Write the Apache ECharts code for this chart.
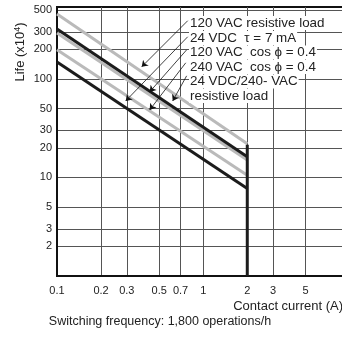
<!DOCTYPE html>
<html>
<head>
<meta charset="utf-8">
<script src="https://cdn.jsdelivr.net/npm/echarts@6/dist/echarts.min.js"></script>
<style>
  html, body { margin: 0; padding: 0; background: #fff; }
  #chart { width: 342px; height: 343px; }
</style>
</head>
<body>
<div id="chart"></div>
<script>
// Axis ticks (log scales)
const xTicks = [0.1, 0.2, 0.3, 0.5, 0.7, 1, 2, 3, 5, 10];
const yTicks = [2, 3, 5, 10, 20, 30, 50, 100, 200, 300, 500];

// Endurance curves: [contact current (A), life (x10^4 operations)]
const ac120Resistive = [[0.1, 455], [2, 22]];
const dc24Inductive = [[0.1, 148], [2, 7.7]];
const ac120Cos04 = [[0.1, 320], [2, 16.2]];
const ac240Cos04 = [[0.1, 197], [2, 10.5]];
const dc24Ac240Resistive = [[0.1, 292], [2, 15]];
// Maximum switching current limit
const currentLimit = [[2, 1], [2, 21.5]];

// Label texts
const labelLines = [
  '120 VAC resistive load',
  '24 VDC  \u03c4 = 7 mA',
  '120 VAC  cos \u03d5 = 0.4',
  '240 VAC  cos \u03d5 = 0.4',
  '24 VDC/240- VAC',
  'resistive load'
];
// Leader arrows: [from (under label), to (curve)]
const leaders = [
  [[0.783, 389], [0.3794, 132.5]],
  [[0.783, 267.5], [0.295, 59.7]],
  [[0.770, 197], [0.4303, 73.8]],
  [[0.759, 145.5], [0.4303, 48.4]],
  [[0.770, 107.3], [0.618, 59.7]]
];

const FONT = 'Liberation Sans, Arial, sans-serif';
const LABEL_FONT = '13.4px ' + FONT;
const GRAY = '#bababa';
const BLACK = '#1c1c1c';

// measure label widths for their white backing boxes
const measureCtx = document.createElement('canvas').getContext('2d');
measureCtx.font = LABEL_FONT;
const textWidth = t => measureCtx.measureText(t).width;

const chart = echarts.init(document.getElementById('chart'), null, { renderer: 'canvas' });

function curve(data, color) {
  return {
    type: 'line', data: data, symbol: 'none', silent: true,
    lineStyle: { color: color, width: 3 }, z: color === BLACK ? 4 : 3
  };
}

const textLineY = [23, 38, 52.5, 67, 81.5, 96];

chart.setOption({
  animation: false,
  backgroundColor: '#fff',
  grid: {
    left: 57, top: 7, width: 292.5, height: 269,
    outerBoundsMode: 'none', containLabel: false,
    show: true, borderColor: '#111', borderWidth: 2
  },
  xAxis: {
    type: 'log', logBase: 10, min: 0.1, max: 10,
    axisLine: { show: true, lineStyle: { color: '#111', width: 2 } },
    axisTick: { show: false, customValues: xTicks },
    axisLabel: {
      customValues: xTicks, margin: 9, color: '#222',
      fontFamily: FONT, fontSize: 11,
      formatter: v => String(+v.toPrecision(3))
    },
    splitLine: { show: true, lineStyle: { color: '#555', width: 1 } },
    minorSplitLine: { show: false }
  },
  yAxis: {
    type: 'log', logBase: 10, min: 1, max: 536,
    axisLine: { show: true, lineStyle: { color: '#111', width: 2 } },
    axisTick: { show: false, customValues: yTicks },
    axisLabel: {
      customValues: yTicks, margin: 5, color: '#222',
      fontFamily: FONT, fontSize: 11,
      formatter: v => String(Math.round(v))
    },
    splitLine: { show: true, lineStyle: { color: '#555', width: 1 } }
  },
  series: [
    curve(ac120Resistive, GRAY),
    curve(dc24Ac240Resistive, GRAY),
    curve(ac240Cos04, GRAY),
    curve(ac120Cos04, BLACK),
    curve(dc24Inductive, BLACK),
    curve(currentLimit, BLACK),
    {
      type: 'lines', coordinateSystem: 'cartesian2d', silent: true, z: 5,
      symbol: ['none', 'arrow'], symbolSize: 6,
      lineStyle: { color: '#111', width: 0.8, opacity: 1 },
      data: leaders.map(c => ({ coords: c }))
    }
  ],
  graphic: {
    elements: [
      ...labelLines.map((t, i) => ({
        type: 'group', x: 189, y: textLineY[i], z: 100,
        children: [
          {
            type: 'rect', z: 100,
            shape: { x: 0, y: -7, width: textWidth(t) + 2, height: 14 },
            style: { fill: '#fff' }
          },
          {
            type: 'text', z: 101, x: 1, y: 0,
            style: {
              text: t, fill: '#222', font: LABEL_FONT,
              verticalAlign: 'middle'
            }
          }
        ]
      })),
      {
        type: 'text', z: 10, rotation: Math.PI / 2, x: 20, y: 52,
        style: {
          text: '{b|Life (x10}{s|4}{b|)}',
          align: 'center', verticalAlign: 'middle',
          rich: {
            b: { fontSize: 13, fontFamily: FONT, fill: '#222' },
            s: { fontSize: 9, fontFamily: FONT, fill: '#222', verticalAlign: 'top' }
          }
        }
      },
      {
        type: 'text', z: 10, x: 343, y: 306,
        style: {
          text: 'Contact current (A)', fill: '#222', font: '13px ' + FONT,
          align: 'right', verticalAlign: 'middle'
        }
      },
      {
        type: 'text', z: 10, x: 160, y: 322,
        style: {
          text: 'Switching frequency: 1,800 operations/h', fill: '#222',
          font: '12.5px ' + FONT, align: 'center', verticalAlign: 'middle'
        }
      }
    ]
  }
});
</script>
</body>
</html>
